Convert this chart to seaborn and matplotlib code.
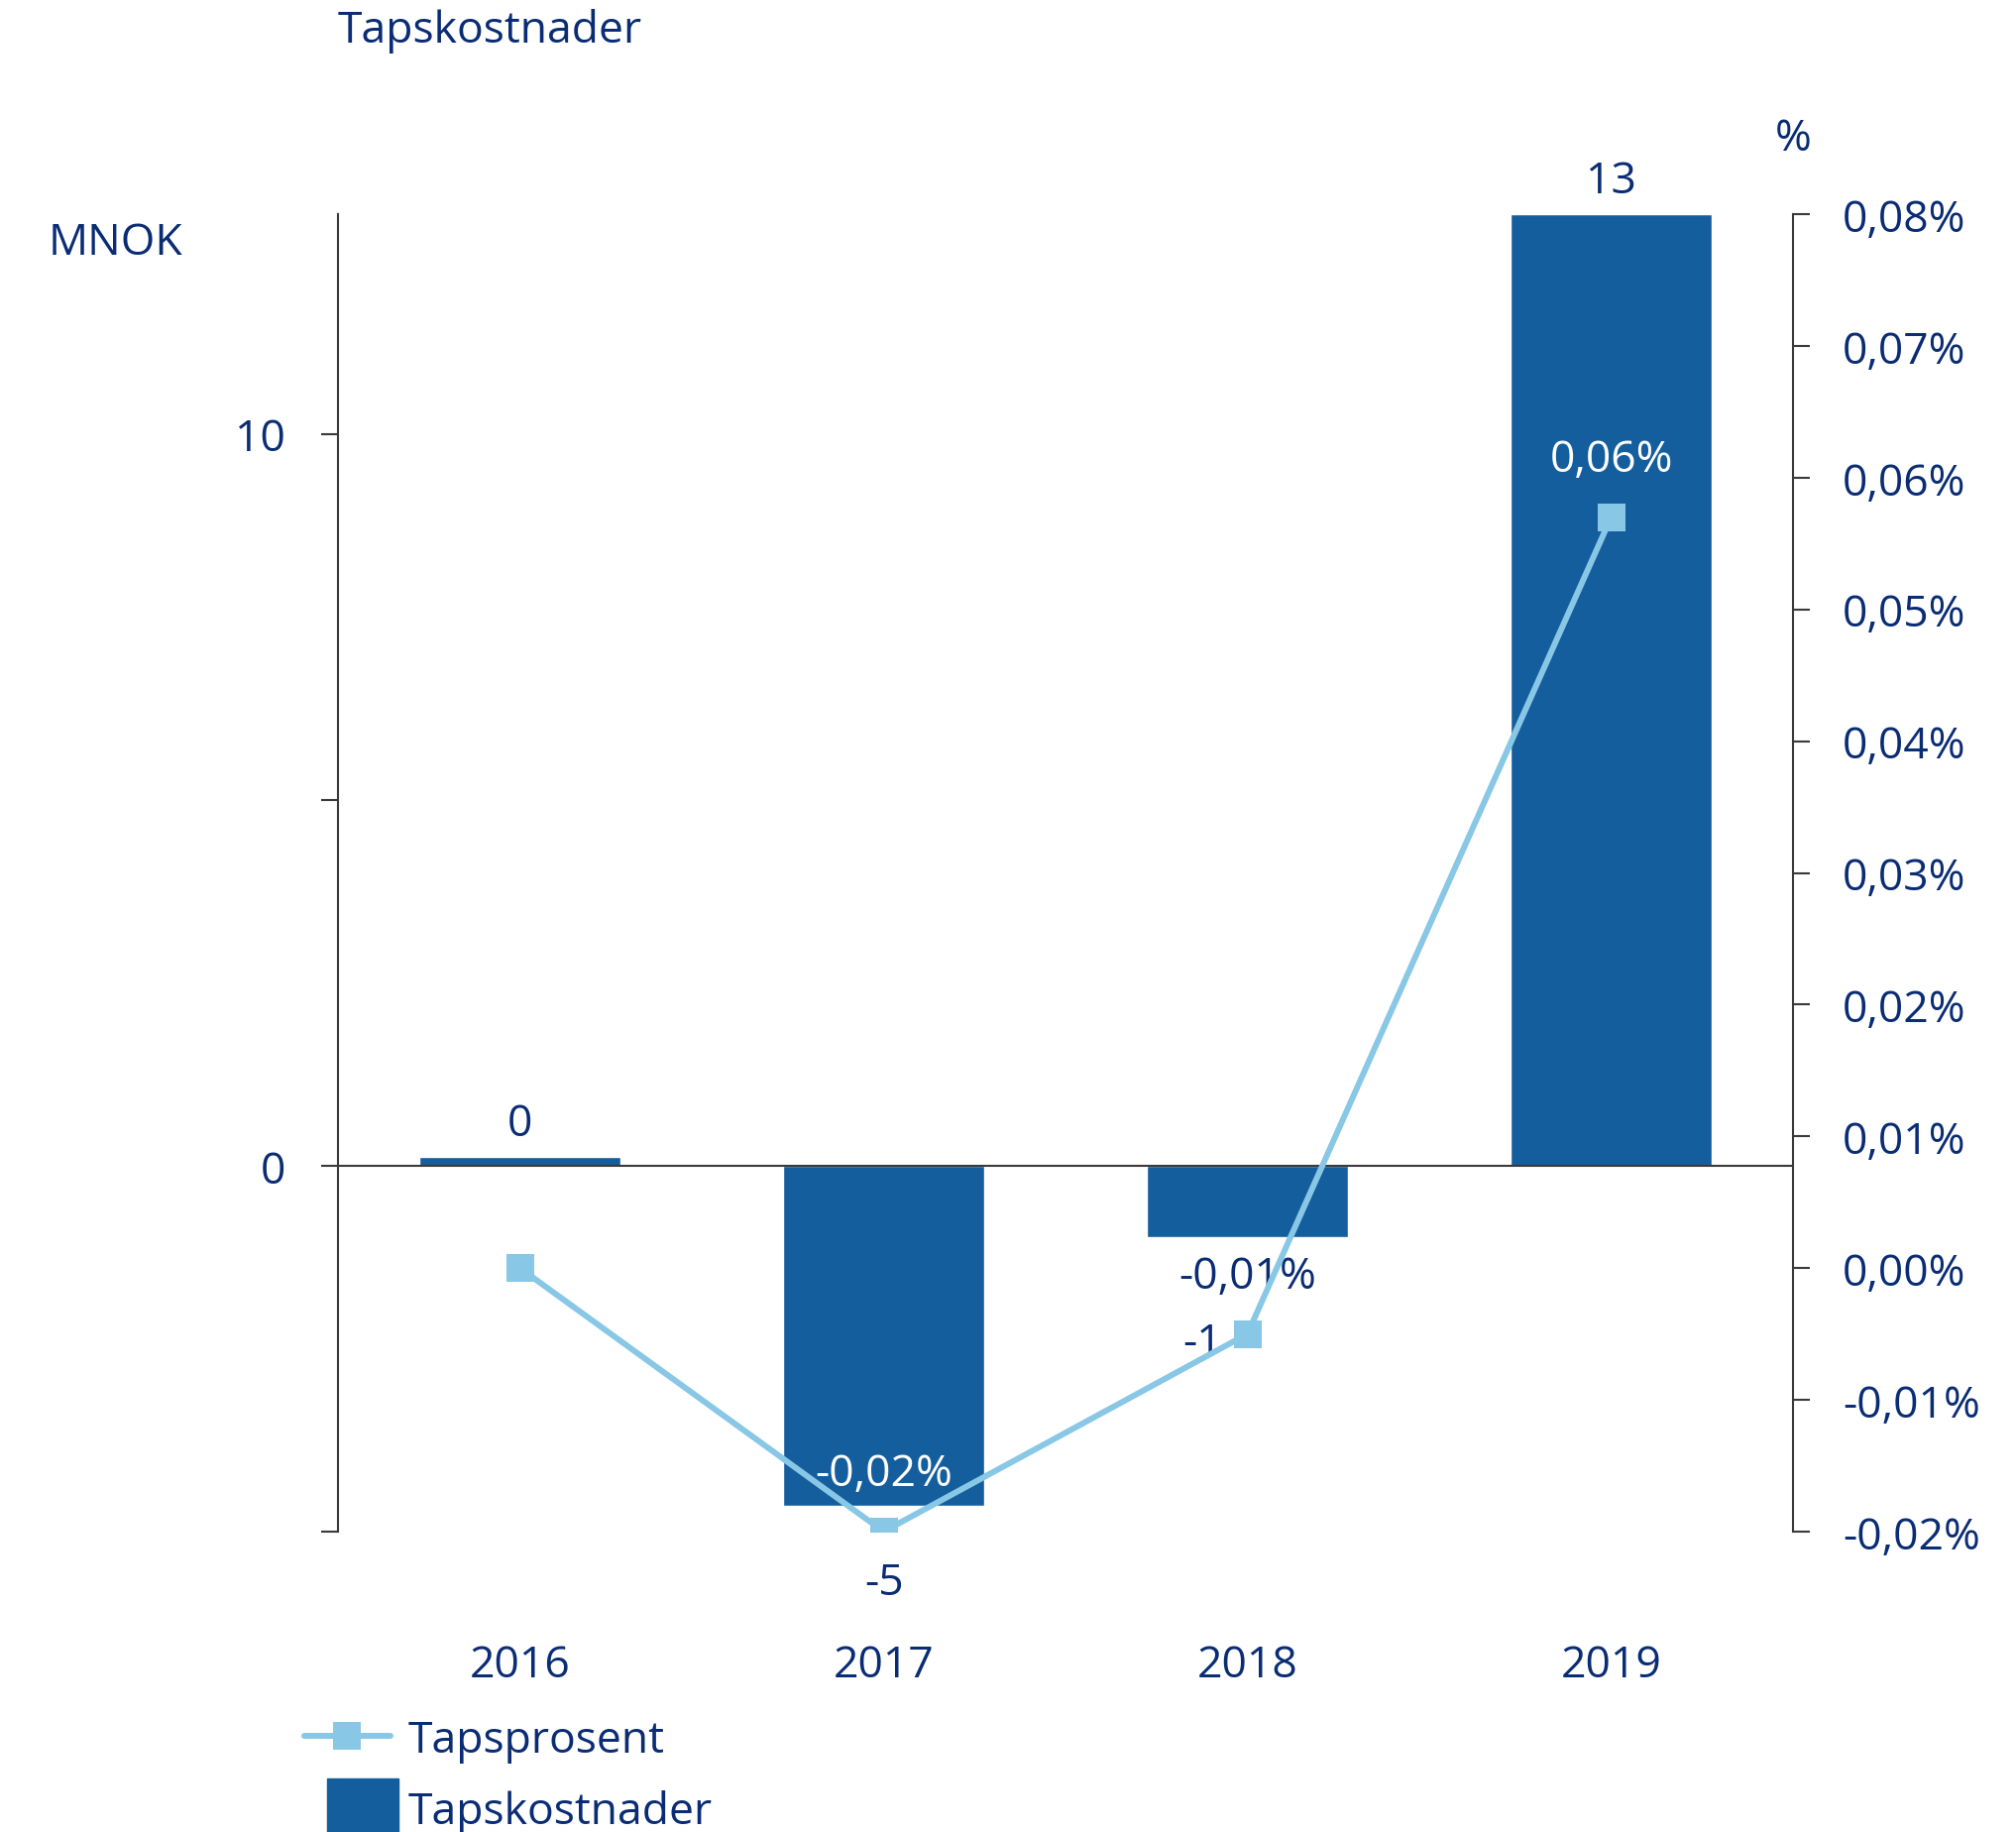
import pandas as pd
import seaborn as sns
import matplotlib.pyplot as plt
from matplotlib.lines import Line2D
from matplotlib.patches import Patch, Rectangle
from matplotlib.legend_handler import HandlerPatch

# Data
years = ["2016", "2017", "2018", "2019"]
tapskostnader = [0.12, -4.65, -0.98, 13.0]     # MNOK
tapsprosent = [0.0, -0.02, -0.005, 0.057]      # %
pct_labels_shown = [False, True, True, True]

df = pd.DataFrame({"year": years, "cost": tapskostnader, "pct": tapsprosent})

# Colours
BAR = "#155E9E"
LINE = "#88C7E5"
NAVY = "#0A2C74"
AXIS = "#3A3A3A"
FS = 32

sns.set_style("white")
plt.rcParams["font.family"] = ["Open Sans", "DejaVu Sans"]

fig = plt.figure(figsize=(20.34, 18.49), dpi=100)
ax = fig.add_axes([0.1677, 0.1639, 0.8894 - 0.1677, 0.8826 - 0.1639])

sns.barplot(data=df, x="year", y="cost", color=BAR, saturation=1, width=0.555, ax=ax, zorder=2)
ax.set_xlim(-0.5, 3.5)
ax.set_ylim(-5, 13)
ax.axhline(0, color=AXIS, lw=1.5, zorder=3)

for s in ["top", "right", "bottom"]:
    ax.spines[s].set_visible(False)
ax.spines["left"].set_color(AXIS)
ax.spines["left"].set_linewidth(1.5)
ax.set_yticks([-5, 0, 5, 10])
ax.set_yticklabels(["", "0", "", "10"])
ax.tick_params(axis="y", direction="out", length=12, width=1.5, color=AXIS,
               labelsize=FS, labelcolor=NAVY, pad=26, left=True)
ax.tick_params(axis="x", length=0, labelsize=FS, labelcolor=NAVY, pad=81)
ax.set_xlabel("")
ax.set_ylabel("")

# bar value labels (offsets in points, imitating the original placement)
bar_offsets = [(0, 24), (0, -56), (-33, -77), (0, 24)]
for i, v in enumerate(tapskostnader):
    ax.annotate(f"{v:.0f}", (i, v), xytext=bar_offsets[i], textcoords="offset points",
                ha="center", va="center", fontsize=FS, color=NAVY, zorder=4)

# secondary axis: loss percentage
ax2 = ax.twinx()
sns.pointplot(data=df, x="year", y="pct", ax=ax2, color=LINE, markers="s",
              errorbar=None, markersize=20, linewidth=4.3, markeredgewidth=0)
ax2.set_xlim(-0.5, 3.5)
ax2.set_ylim(-0.02, 0.08)
ax2.set_yticks([-0.02 + 0.01 * k for k in range(11)])
ax2.set_yticklabels([f"{-0.02 + 0.01 * k:.2f}%".replace(".", ",").replace("-0,00", "0,00")
                     for k in range(11)])
for s in ["top", "left", "bottom"]:
    ax2.spines[s].set_visible(False)
ax2.spines["right"].set_color(AXIS)
ax2.spines["right"].set_linewidth(1.5)
ax2.tick_params(axis="y", direction="out", length=12, width=1.5, color=AXIS,
                labelsize=FS, labelcolor=NAVY, pad=24, right=True)
ax2.set_ylabel("")
ax2.set_xlabel("")

pct_colors = [NAVY, "white", NAVY, "white"]
for i, v in enumerate(tapsprosent):
    if not pct_labels_shown[i]:
        continue
    ax2.annotate(f"{v:.2f}%".replace(".", ","), (i, v), xytext=(0, 42),
                 textcoords="offset points", ha="center", va="center",
                 fontsize=FS, color=pct_colors[i], zorder=1)

# titles / units
fig.text(0.1677, 0.983, "Tapskostnader", ha="left", va="center", fontsize=FS, color=NAVY)
fig.text(0.024, 0.867, "MNOK", ha="left", va="center", fontsize=FS, color=NAVY)
fig.text(0.8894, 0.924, "%", ha="center", va="center", fontsize=FS, color=NAVY)


def square_patch(legend, orig_handle, xdescent, ydescent, width, height, fontsize):
    h = 1.85 * height
    return Rectangle((-xdescent + 0.26 * width, -ydescent + height / 2 - h / 2),
                     0.83 * width, h)


handles = [
    Line2D([], [], color=LINE, lw=4.3, marker="s", markersize=20, markeredgewidth=0),
    Patch(facecolor=BAR, edgecolor=BAR),
]
fig.legend(handles, ["Tapsprosent", "Tapskostnader"], loc="upper left",
           bbox_to_anchor=(0.151, 0.062), frameon=False, fontsize=FS,
           labelcolor=NAVY, handlelength=1.95, handleheight=0.7,
           handletextpad=0.4, labelspacing=0.6, borderpad=0, borderaxespad=0,
           handler_map={Patch: HandlerPatch(patch_func=square_patch)})

fig.savefig("out.png", dpi=100)
